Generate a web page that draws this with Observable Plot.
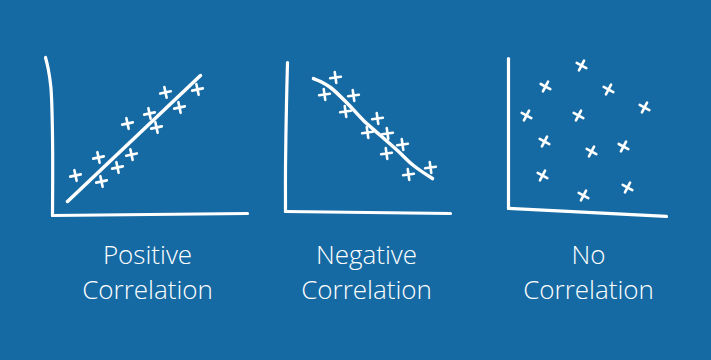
<!DOCTYPE html>
<html>
<head>
<meta charset="utf-8">
<script src="https://cdn.jsdelivr.net/npm/d3@7"></script>
<script src="https://cdn.jsdelivr.net/npm/@observablehq/plot@0.6"></script>
<style>
  html, body { margin: 0; padding: 0; background: #166aa3; }
  #chart { width: 711px; height: 360px; }
</style>
</head>
<body>
<div id="chart"></div>
<script>
const panels = ["Positive", "Negative", "No"];
const labelTexts = ["Positive\nCorrelation", "Negative\nCorrelation", "No\nCorrelation"];
const labelX = [4.75, 4.3, 4.0];

// Positive correlation points
const posX = [1.15, 2.3, 2.45, 3.25, 3.95, 3.75, 4.85, 5.2, 5.65, 6.35, 7.25];
const posY = [2.5, 3.625, 2.125, 3.0, 3.81, 5.75, 6.375, 5.5, 7.69, 6.75, 7.875];
// Negative correlation points
const negX = [2.75, 2.2, 3.65, 3.25, 4.85, 4.35, 5.35, 6.1, 5.3, 6.4, 7.5];
const negY = [8.625, 7.56, 7.5, 6.5, 6.06, 5.19, 5.125, 4.44, 3.875, 2.56, 3.0];
// No correlation points
const noX = [3.65, 1.85, 5.0, 6.8, 0.9, 3.5, 1.8, 4.15, 5.75, 1.7, 5.95, 3.75];
const noY = [9.375, 8.06, 7.875, 6.75, 6.25, 6.25, 4.625, 4.0, 4.31, 2.5, 1.75, 1.25];

// Trend lines
const posFitX = [0.75, 7.4];
const posFitY = [0.875, 8.75];
const negFitX = [1.65, 2.0, 2.5, 3.35, 4.15, 5.0, 5.85, 6.65, 7.6];
const negFitY = [8.56, 8.375, 8.0, 7.0, 5.94, 5.0, 4.06, 3.125, 2.31];

// Hand-drawn axes: vertical strokes and horizontal strokes
const vert1X = [-0.35, -0.22, -0.08, 0, 0];
const vert1Y = [9.875, 9.2, 8.0, 5.0, 0];
const vert2X = [0.35, 0.3, 0.25, 0.25];
const vert2Y = [9.56, 7.0, 3.0, 0.25];
const vert3X = [0, 0, 0];
const vert3Y = [9.81, 5.0, 0.44];
const horz1X = [0, 9.75];
const horz1Y = [0, 0.125];
const horz2X = [0.25, 8.5];
const horz2Y = [0.25, 0.125];
const horz3X = [0, 7.9];
const horz3Y = [0.44, -0.06];

const rows = (panel, xs, ys, part = "") => xs.map((x, i) => ({panel, part, x, y: ys[i]}));

const points = [
  ...rows("Positive", posX, posY),
  ...rows("Negative", negX, negY),
  ...rows("No", noX, noY)
];
const axes = [
  ...rows("Positive", vert1X, vert1Y, "v1"),
  ...rows("Negative", vert2X, vert2Y, "v2"),
  ...rows("No", vert3X, vert3Y, "v3"),
  ...rows("Positive", horz1X, horz1Y, "h1"),
  ...rows("Negative", horz2X, horz2Y, "h2"),
  ...rows("No", horz3X, horz3Y, "h3")
];
const fitPos = rows("Positive", posFitX, posFitY);
const fitNeg = rows("Negative", negFitX, negFitY);
const labels = panels.map((p, i) => ({panel: p, x: labelX[i], text: labelTexts[i]}));

const tilt = {Positive: -12, Negative: -8, No: 28};

const chart = Plot.plot({
  width: 711,
  height: 360,
  marginLeft: 52,
  marginRight: 3,
  marginTop: 55,
  marginBottom: 145,
  style: {background: "#166aa3", overflow: "visible"},
  fx: {domain: panels, paddingInner: 0.123, paddingOuter: 0, axis: null, label: null},
  x: {domain: [0, 10], axis: null},
  y: {domain: [0, 10], axis: null},
  marks: [
    Plot.line(axes, {x: "x", y: "y", fx: "panel", z: "part", stroke: "white", strokeWidth: 3.2, strokeLinecap: "round", strokeLinejoin: "round", curve: "catmull-rom"}),
    Plot.line(fitPos, {x: "x", y: "y", fx: "panel", stroke: "white", strokeWidth: 3.5, strokeLinecap: "round"}),
    Plot.line(fitNeg, {x: "x", y: "y", fx: "panel", stroke: "white", strokeWidth: 3.5, strokeLinecap: "round", curve: "catmull-rom"}),
    Plot.dot(points, {x: "x", y: "y", fx: "panel", symbol: "plus", r: 3.6, stroke: "white", strokeWidth: 2.6, strokeLinecap: "round", rotate: d => tilt[d.panel]}),
    Plot.text(labels, {x: "x", fx: "panel", text: "text", frameAnchor: "bottom", dy: 55, lineAnchor: "middle", lineHeight: 1.35, fontSize: 26, fontWeight: 300, fontFamily: "'Open Sans', Lato, 'DejaVu Sans', sans-serif", fill: "white"})
  ]
});
document.getElementById("chart").appendChild(chart);
</script>
</body>
</html>
